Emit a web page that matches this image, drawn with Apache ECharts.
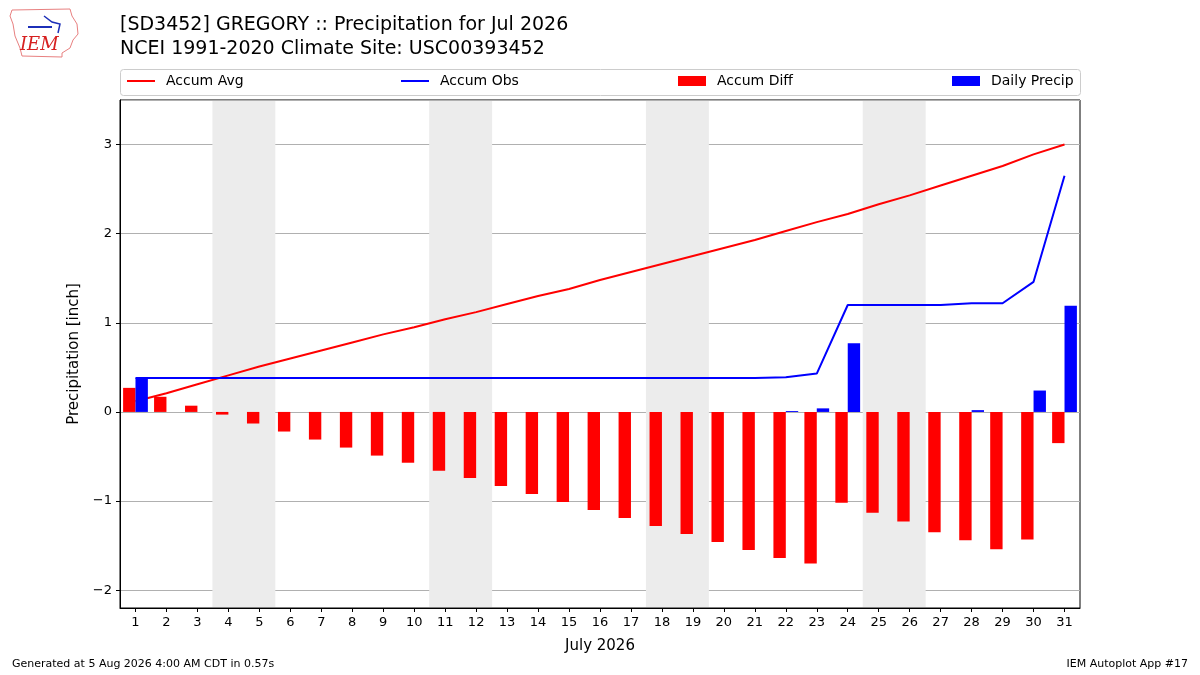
<!DOCTYPE html>
<html>
<head>
<meta charset="utf-8">
<script src="https://cdn.jsdelivr.net/npm/echarts@6/dist/echarts.min.js"></script>
<style>
  html, body { margin: 0; padding: 0; background: #fff; }
  #chart { width: 1200px; height: 675px; }
</style>
</head>
<body>
<div id="chart"></div>
<script>
const days = ['1','2','3','4','5','6','7','8','9','10','11','12','13','14','15','16',
  '17','18','19','20','21','22','23','24','25','26','27','28','29','30','31'];
const weekendDays = ['4','5','11','12','18','19','25','26'];
const yTicks = [-2, -1, 0, 1, 2, 3];

const accumAvg = [0.12, 0.21, 0.31, 0.41, 0.51, 0.60, 0.69, 0.78, 0.87, 0.95, 1.04,
  1.12, 1.21, 1.30, 1.38, 1.48, 1.57, 1.66, 1.75, 1.84, 1.93, 2.03, 2.13, 2.22,
  2.33, 2.43, 2.54, 2.65, 2.76, 2.89, 3.00];
const accumObs = [0.38, 0.38, 0.38, 0.38, 0.38, 0.38, 0.38, 0.38, 0.38, 0.38, 0.38,
  0.38, 0.38, 0.38, 0.38, 0.38, 0.38, 0.38, 0.38, 0.38, 0.38, 0.39, 0.43, 1.20,
  1.20, 1.20, 1.20, 1.22, 1.22, 1.46, 2.65];
const accumDiff = [0.27, 0.17, 0.07, -0.03, -0.13, -0.22, -0.31, -0.40, -0.49, -0.57,
  -0.66, -0.74, -0.83, -0.92, -1.01, -1.10, -1.19, -1.28, -1.37, -1.46, -1.55,
  -1.64, -1.70, -1.02, -1.13, -1.23, -1.35, -1.44, -1.54, -1.43, -0.35];
const dailyPrecip = [0.38, 0, 0, 0, 0, 0, 0, 0, 0, 0, 0, 0, 0, 0, 0, 0, 0, 0, 0, 0, 0,
  0.01, 0.04, 0.77, 0, 0, 0, 0.02, 0, 0.24, 1.19];

const font = 'DejaVu Sans';
const chart = echarts.init(document.getElementById('chart'));

// shaded weekend bands, one category wide each (slight overlap hides seams)
const renderWeekend = (params, api) => {
  const cs = params.coordSys;
  const x = api.coord([api.value(0), 0])[0];
  const w = api.size([1, 0])[0];
  return {
    type: 'rect',
    shape: { x: x - w / 2 - 0.5, y: cs.y + 1, width: w + 1, height: cs.height - 2 },
    style: { fill: '#ececec' }
  };
};

const legendBase = {
  top: 74,
  padding: 0,
  itemGap: 0,
  textStyle: { fontFamily: font, fontSize: 14, color: '#000', padding: [0, 0, 0, 6] },
  selectedMode: false
};

const option = {
  animation: false,
  backgroundColor: '#fff',
  textStyle: { fontFamily: font },
  title: {
    text: '[SD3452] GREGORY :: Precipitation for Jul 2026\nNCEI 1991-2020 Climate Site: USC00393452',
    left: 115,
    top: 8,
    textStyle: { fontFamily: font, fontSize: 19, fontWeight: 'normal', color: '#000', lineHeight: 24 }
  },
  legend: [
    Object.assign({}, legendBase, { left: 127, data: ['Accum Avg'], icon: 'rect', itemWidth: 28, itemHeight: 2 }),
    Object.assign({}, legendBase, { left: 401, data: ['Accum Obs'], icon: 'rect', itemWidth: 28, itemHeight: 2 }),
    Object.assign({}, legendBase, { left: 678, data: ['Accum Diff'], icon: 'rect', itemWidth: 28, itemHeight: 10 }),
    Object.assign({}, legendBase, { left: 952, data: ['Daily Precip'], icon: 'rect', itemWidth: 28, itemHeight: 10 })
  ],
  grid: {
    left: 120, right: 120, top: 100, bottom: 67,
    show: true, borderColor: '#000', borderWidth: 1, backgroundColor: 'transparent'
  },
  xAxis: {
    type: 'category',
    data: days,
    boundaryGap: true,
    name: 'July 2026',
    nameLocation: 'middle',
    nameGap: 31,
    nameTextStyle: { fontFamily: font, fontSize: 15, color: '#000' },
    axisLine: { show: true, onZero: false, lineStyle: { color: '#000', width: 1 } },
    axisTick: { show: true, alignWithLabel: true, length: 4, lineStyle: { color: '#000' } },
    axisLabel: { fontFamily: font, fontSize: 13, color: '#000', margin: 8, interval: 0 },
    splitLine: { show: false }
  },
  yAxis: {
    type: 'value',
    min: -2.2,
    max: 3.5,
    name: 'Precipitation [inch]',
    nameLocation: 'middle',
    nameGap: 38,
    nameTextStyle: { fontFamily: font, fontSize: 15, color: '#000' },
    axisLine: { show: true, lineStyle: { color: '#000', width: 1 } },
    axisTick: { show: true, length: 4, lineStyle: { color: '#000' } },
    axisLabel: {
      fontFamily: font, fontSize: 13, color: '#000', margin: 8,
      showMinLabel: false, showMaxLabel: false,
      formatter: v => (yTicks.indexOf(v) < 0 ? '' : (v < 0 ? '\u2212' + Math.abs(v) : String(v)))
    },
    splitLine: { show: true, lineStyle: { color: '#b0b0b0', width: 1 } }
  },
  series: [
    {
      name: 'weekend',
      type: 'custom',
      silent: true,
      z: 0,
      renderItem: renderWeekend,
      data: weekendDays.map(d => [d])
    },
    {
      name: 'Accum Avg',
      type: 'line',
      data: accumAvg,
      symbol: 'none',
      z: 1,
      lineStyle: { color: '#ff0000', width: 2 },
      itemStyle: { color: '#ff0000' }
    },
    {
      name: 'Accum Obs',
      type: 'line',
      data: accumObs,
      symbol: 'none',
      z: 3,
      lineStyle: { color: '#0000ff', width: 2 },
      itemStyle: { color: '#0000ff' }
    },
    {
      name: 'Accum Diff',
      type: 'bar',
      data: accumDiff,
      z: 2,
      barWidth: '40%',
      barGap: '0%',
      itemStyle: { color: '#ff0000' }
    },
    {
      name: 'Daily Precip',
      type: 'bar',
      data: dailyPrecip,
      z: 2,
      barWidth: '40%',
      barGap: '0%',
      itemStyle: { color: '#0000ff' }
    }
  ],
  graphic: [
    // legend frame
    {
      type: 'rect', left: 120, top: 69, z: -1,
      shape: { width: 960, height: 26, r: 3 },
      style: { fill: '#fff', stroke: '#cccccc', lineWidth: 1 }
    },
    // IEM logo (rough)
    {
      type: 'polyline', z: 5,
      shape: { points: [[12, 10], [70, 9], [72, 16], [77, 24], [78, 34], [73, 40], [70, 48], [62, 53], [62, 57], [22, 56], [20, 48], [15, 36], [13, 24], [10, 16], [12, 10]] },
      style: { stroke: '#e88080', fill: 'none', lineWidth: 1 }
    },
    {
      type: 'polyline', z: 5,
      shape: { points: [[28, 27], [52, 27]] },
      style: { stroke: '#1c2fb8', lineWidth: 2 }
    },
    {
      type: 'polyline', z: 5,
      shape: { points: [[44, 16], [52, 22], [60, 24], [58, 33]] },
      style: { stroke: '#1c2fb8', lineWidth: 1.5, fill: 'none' }
    },
    {
      type: 'text', left: 20, top: 36, z: 5,
      style: { text: 'IEM', font: 'italic 18px "DejaVu Serif", serif', fill: '#d62020' }
    },
    // footer
    {
      type: 'text', left: 12, top: 659,
      style: { text: 'Generated at 5 Aug 2026 4:00 AM CDT in 0.57s', font: '11px "DejaVu Sans"', fill: '#000' }
    },
    {
      type: 'text', right: 12, top: 659,
      style: { text: 'IEM Autoplot App #17', font: '11px "DejaVu Sans"', fill: '#000' }
    }
  ]
};

chart.setOption(option);
</script>
</body>
</html>
